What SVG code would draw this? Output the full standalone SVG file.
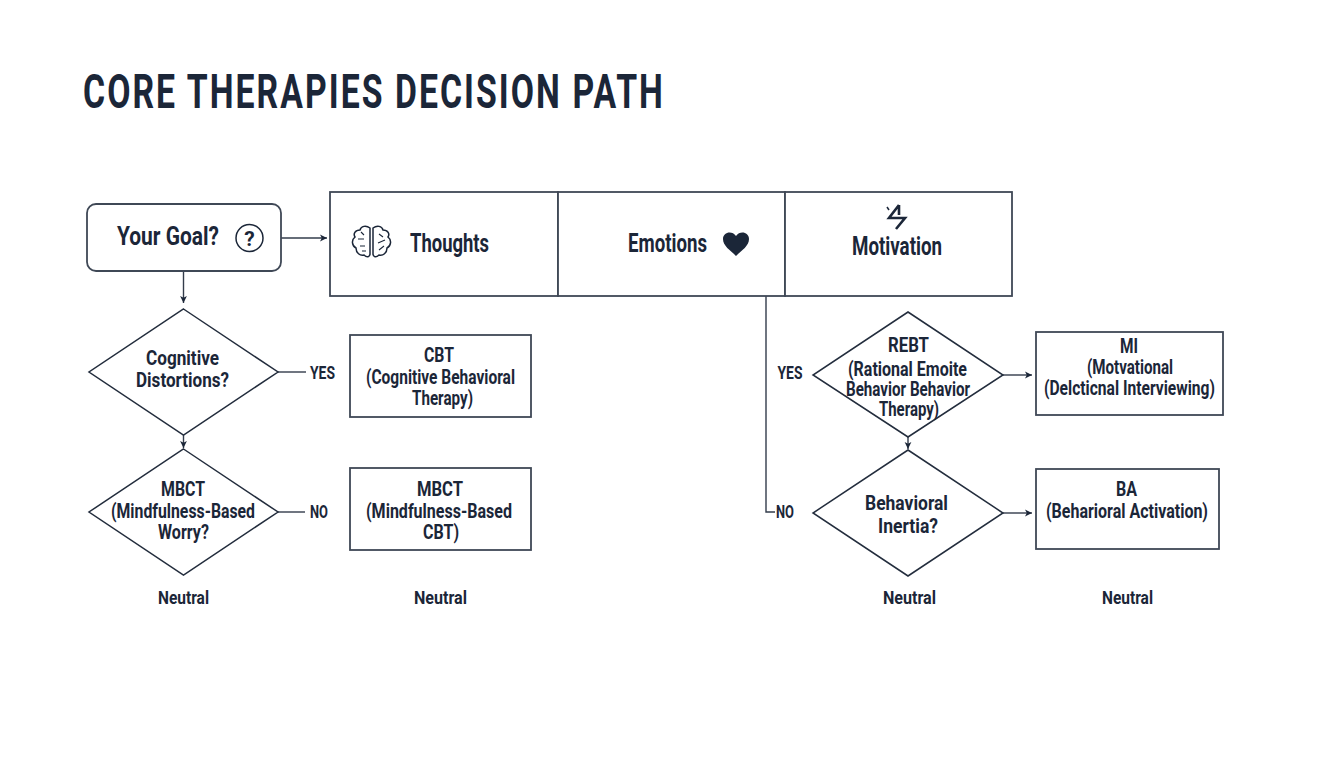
<svg xmlns="http://www.w3.org/2000/svg" width="1344" height="768" viewBox="0 0 1344 768">
<style>
.s{fill:#fff;stroke:#3f4856;stroke-width:1.8}
.d{fill:#fff;stroke:#232d3d;stroke-width:1.5}
.c{fill:none;stroke:#333c4b;stroke-width:1.4}
text{font-family:"Roboto","Liberation Sans",sans-serif;fill:#1b2638;font-weight:700;text-anchor:middle;font-size:20px}
.l{font-size:19px}
.h{font-size:25px}
.i{fill:none;stroke:#1b2638;stroke-width:1.5}
</style>
<defs><marker id="a" markerWidth="8" markerHeight="8" refX="7" refY="4" orient="auto" markerUnits="userSpaceOnUse"><path d="M0 .6L7 4L0 7.400L1.800 4Z" fill="#1b2638"/></marker></defs>
<rect width="1344" height="768" fill="#fff"/>
<text id="title" x="83" y="108" style="text-anchor:start;font-size:49px;letter-spacing:3px" textLength="582" lengthAdjust="spacingAndGlyphs">CORE THERAPIES DECISION PATH</text>
<g id="connectors">
<path class="c" d="M281 238H327" marker-end="url(#a)"/>
<path class="c" d="M183.500 271V303" marker-end="url(#a)"/>
<path class="c" d="M278 372H306"/>
<path class="c" d="M183.500 435V448" marker-end="url(#a)"/>
<path class="c" d="M278 512H305"/>
<path class="c" d="M766 296V512H775"/>
<path class="c" d="M1003 375H1032" marker-end="url(#a)"/>
<path class="c" d="M908 437V449" marker-end="url(#a)"/>
<path class="c" d="M1003 513H1032" marker-end="url(#a)"/>
</g>
<g id="goal"><rect class="s" x="87" y="204" width="194" height="67" rx="9"/>
<text x="168" y="245" style="font-size:26px" textLength="102" lengthAdjust="spacingAndGlyphs">Your Goal?</text>
<circle class="i" cx="249.500" cy="238" r="13.500"/><text x="249.500" y="246" style="font-size:21px">?</text></g>
<g id="thoughts"><rect class="s" x="330" y="192" width="228" height="104"/>
<g class="i" transform="translate(352 226)"><path d="M18 2C14-1 9 0 8 4C3 4 1 8 3 11C-1 14 0 20 4 22C4 27 8 30 12 29C15 32 18 31 18 28ZM21 2C25-1 30 0 31 4C36 4 38 8 36 11C40 14 39 20 35 22C35 27 31 30 27 29C24 32 21 31 21 28Z"/><path d="M6 13H12M9 6L12 9M8 20H13M10 25H14M27 8L31 11M26 17L33 14M27 24L32 20" stroke-width="1.100"/></g>
<text class="h" x="449.500" y="252" textLength="79" lengthAdjust="spacingAndGlyphs">Thoughts</text></g>
<g id="emotions"><rect class="s" x="558" y="192" width="227" height="104"/>
<text class="h" x="667.500" y="252" textLength="79" lengthAdjust="spacingAndGlyphs">Emotions</text>
<path d="M736 256C730 250 723 246 723 239C723 232 732 230 736 236C740 230 749 232 749 239C749 246 742 250 736 256Z" fill="#1b2638"/></g>
<g id="motivation"><rect class="s" x="785" y="192" width="227" height="104"/>
<path d="M899 205L889 218H905L896 229M899 205L899 215" fill="none" stroke="#1b2638" stroke-width="2.600"/><path class="i" d="M887 207L889 210"/>
<text class="h" x="897" y="255" textLength="90" lengthAdjust="spacingAndGlyphs">Motivation</text></g>
<g id="d1"><polygon class="d" points="183.500,309 278,372 183.500,435 89,372"/>
<text x="182.500" y="365" textLength="73" lengthAdjust="spacingAndGlyphs">Cognitive</text><text x="182.500" y="387" textLength="93" lengthAdjust="spacingAndGlyphs">Distortions?</text></g>
<text class="l" x="322.500" y="379" id="yes1" textLength="25" lengthAdjust="spacingAndGlyphs">YES</text>
<g id="cbt"><rect class="s" x="350" y="335" width="181" height="82"/>
<text x="439" y="362" textLength="30" lengthAdjust="spacingAndGlyphs">CBT</text><text x="440.500" y="384" textLength="149" lengthAdjust="spacingAndGlyphs">(Cognitive Behavioral</text><text x="442.500" y="405" textLength="61" lengthAdjust="spacingAndGlyphs">Therapy)</text></g>
<g id="d2"><polygon class="d" points="183.500,449 278,512 183.500,575 89,512"/>
<text x="183" y="496" textLength="44" lengthAdjust="spacingAndGlyphs">MBCT</text><text x="183" y="518" textLength="144" lengthAdjust="spacingAndGlyphs">(Mindfulness-Based</text><text x="183.500" y="539" textLength="51" lengthAdjust="spacingAndGlyphs">Worry?</text></g>
<text class="l" x="319" y="518" id="no1" textLength="18" lengthAdjust="spacingAndGlyphs">NO</text>
<g id="mbct"><rect class="s" x="350" y="468" width="181" height="82"/>
<text x="440" y="496" textLength="46" lengthAdjust="spacingAndGlyphs">MBCT</text><text x="439" y="518" textLength="146" lengthAdjust="spacingAndGlyphs">(Mindfulness-Based</text><text x="441" y="539" textLength="36" lengthAdjust="spacingAndGlyphs">CBT)</text></g>
<text class="l" x="183.500" y="604" textLength="51" lengthAdjust="spacingAndGlyphs">Neutral</text><text class="l" x="440.500" y="604" textLength="53" lengthAdjust="spacingAndGlyphs">Neutral</text>
<text class="l" x="790" y="379" textLength="25" lengthAdjust="spacingAndGlyphs">YES</text>
<g id="d3"><polygon class="d" points="908,312 1003,375 908,437 813,375"/>
<text x="908.500" y="352" textLength="41" lengthAdjust="spacingAndGlyphs">REBT</text><text x="907.500" y="376" textLength="119" lengthAdjust="spacingAndGlyphs">(Rational Emoite</text><text x="908" y="396" textLength="124" lengthAdjust="spacingAndGlyphs">Behavior Behavior</text><text x="909" y="416" textLength="60" lengthAdjust="spacingAndGlyphs">Therapy)</text></g>
<g id="mi"><rect class="s" x="1036" y="332" width="187" height="83"/>
<text x="1129" y="353" textLength="18" lengthAdjust="spacingAndGlyphs">MI</text><text x="1130" y="374" textLength="86" lengthAdjust="spacingAndGlyphs">(Motvational</text><text x="1129.500" y="395" textLength="171" lengthAdjust="spacingAndGlyphs">(Delcticnal Interviewing)</text></g>
<text class="l" x="785" y="518" textLength="18" lengthAdjust="spacingAndGlyphs">NO</text>
<g id="d4"><polygon class="d" points="908,450 1003,513 908,576 813,513"/>
<text x="906.500" y="510" textLength="83" lengthAdjust="spacingAndGlyphs">Behavioral</text><text x="908" y="533" textLength="60" lengthAdjust="spacingAndGlyphs">Inertia?</text></g>
<g id="ba"><rect class="s" x="1036" y="469" width="183" height="80"/>
<text x="1126.500" y="496" textLength="21" lengthAdjust="spacingAndGlyphs">BA</text><text x="1127" y="518" textLength="162" lengthAdjust="spacingAndGlyphs">(Beharioral Activation)</text></g>
<text class="l" x="909.500" y="604" textLength="53" lengthAdjust="spacingAndGlyphs">Neutral</text><text class="l" x="1127.500" y="604" textLength="51" lengthAdjust="spacingAndGlyphs">Neutral</text>
</svg>
